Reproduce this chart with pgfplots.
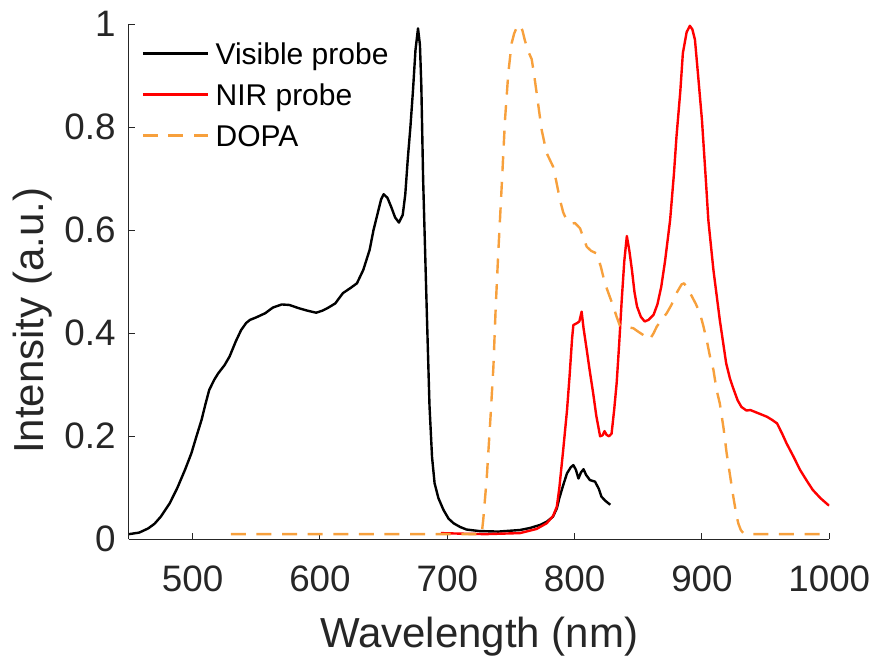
\documentclass[border=0pt]{standalone}
\usepackage{fontspec}
\setmainfont{Liberation Sans}
\usepackage{pgfplots}
\pgfplotsset{compat=1.18}
\definecolor{axgray}{RGB}{38,38,38}
\definecolor{dopa}{RGB}{247,160,60}
\begin{document}
\begin{tikzpicture}
\path[use as bounding box] (-64.5pt,-59.35pt) rectangle (373pt,269.65pt);
\begin{axis}[
  at={(0,0)}, anchor=south west,
  scale only axis, width=350.15pt, height=257.5pt,
  xmin=450, xmax=1000, ymin=0, ymax=1,
  axis x line*=bottom, axis y line*=left,
  axis line style={draw=axgray, line width=0.5pt, -},
  xtick={500,600,700,800,900,1000},
  ytick={0,0.2,0.4,0.6,0.8,1},
  tick align=inside, major tick length=3pt,
  tick style={draw=axgray, line width=0.5pt},
  /pgf/number format/assume math mode=true,
  /pgf/number format/1000 sep={},
  ticklabel style={font=\fontsize{18.4}{22}\selectfont, text=axgray},
  xticklabel style={inner sep=0pt, anchor=north, yshift=-13pt},
  yticklabel style={inner sep=0pt, anchor=east, xshift=-6.5pt},
  xlabel={Wavelength (nm)}, ylabel={Intensity (a.u.)},
  label style={font=\fontsize{21}{25}\selectfont, text=axgray},
  xlabel style={at={(axis description cs:0.5,-0.2097)}, anchor=base, inner sep=0pt},
  ylabel style={at={(axis description cs:-0.1214,0.424)}, anchor=base, inner sep=0pt},
  legend style={draw=none, fill=none, inner sep=0pt, outer sep=0pt,
    at={(axis description cs:0.018,0.965)}, anchor=north west,
    font=\fontsize{15}{18}\selectfont, row sep=9.5pt, column sep=3pt,
    nodes={inner sep=0pt, text height=11pt, text depth=0pt}},
  legend cell align=left,
  legend image code/.code={\draw[#1] (0pt,0pt) -- (32.8pt,0pt);},
]
\addplot[black, line width=1.2pt, line join=round] coordinates {
(450,0.010) (458,0.013) (465,0.021) (470,0.030) (475,0.044) (482,0.070) (488,0.100)
(494,0.135) (499,0.167) (503,0.200) (507,0.232) (510,0.262) (513,0.290) (517,0.310)
(520,0.322) (525,0.338) (529,0.355) (534,0.385) (538,0.406) (542,0.420) (545,0.426)
(550,0.431) (557,0.439) (563,0.450) (570,0.456) (576,0.455) (583,0.449) (590,0.444)
(597,0.440) (602,0.444) (606,0.449) (612,0.458) (618,0.478) (624,0.488) (629,0.497)
(634,0.523) (639,0.562) (642,0.600) (645,0.630) (648,0.660) (650,0.670) (653,0.663)
(656,0.645) (659,0.625) (662,0.615) (665,0.630) (667,0.670) (669,0.740) (671,0.800)
(673,0.870) (675,0.950) (677,0.992) (678.5,0.960) (679.6,0.880) (681,0.700) (682,0.610)
(684,0.432) (686,0.260) (688,0.160) (690,0.109) (693,0.080) (697,0.057) (701,0.040)
(705,0.031) (710,0.024) (715,0.019) (725,0.016) (740,0.015) (757,0.018) (765,0.022)
(773,0.028) (778,0.034) (783,0.044) (786,0.060) (788,0.080) (791,0.105) (794,0.128)
(797,0.140) (799,0.144) (801,0.135) (803,0.118) (805,0.130) (807,0.136) (809,0.125)
(812,0.115) (816,0.112) (819,0.098) (821,0.083) (824,0.075) (828,0.067)
};
\addlegendentry{Visible probe}
\addplot[red, line width=1.2pt, line join=round] coordinates {
(695,0.012) (710,0.011) (730,0.010) (757,0.012) (770,0.020) (778,0.031) (783,0.045)
(786,0.063) (788,0.100) (791,0.173) (794,0.250) (796,0.316) (798,0.390) (799,0.416)
(802,0.420) (803.7,0.423) (805.5,0.442) (807,0.410) (809.5,0.368) (812,0.325)
(814.6,0.283) (817,0.240) (820,0.200) (822,0.202) (823.5,0.210) (825,0.203) (827,0.200)
(829,0.205) (831,0.250) (833,0.303) (835,0.380) (837,0.465) (839,0.540) (841,0.589)
(843,0.560) (845,0.523) (847,0.480) (849,0.452) (852,0.432) (855,0.423) (858,0.426)
(862,0.436) (865,0.456) (868,0.490) (871,0.540) (875,0.620) (878,0.710) (880,0.782)
(883,0.870) (885,0.944) (888,0.985) (890.5,0.997) (892.5,0.990) (894.5,0.970)
(897,0.900) (900,0.814) (903,0.700) (905,0.620) (909,0.523) (914,0.426) (919,0.342)
(922,0.312) (924.6,0.293) (928,0.270) (931,0.257) (935,0.250) (938,0.251) (944,0.245) (951,0.238)
(955,0.232) (959,0.225) (963,0.205) (966.5,0.186) (972,0.160) (977,0.135) (982,0.115)
(987,0.096) (993,0.080) (999,0.067) (1000,0.066)
};
\addlegendentry{NIR probe}
\addplot[dopa, line width=1.2pt, line join=round, dash pattern=on 7.5pt off 5.3pt] coordinates {
(530,0.010) (727,0.010) (728.3,0.040) (731,0.120) (734,0.240) (736.2,0.335) (738,0.450)
(740,0.555) (742.7,0.685) (745.3,0.814) (747.9,0.905) (750.5,0.963) (752.5,0.982) (754.5,0.994)
(757,0.999) (759,0.988) (761,0.968) (763.5,0.948) (766.3,0.932) (768,0.905) (770.2,0.866)
(774.1,0.795) (778,0.750) (783.2,0.723) (786,0.690) (788.5,0.659) (791,0.635)
(793.7,0.620) (797,0.613) (800.3,0.614) (804.2,0.604) (807,0.585) (809.5,0.568)
(813,0.560) (817.3,0.555) (820.5,0.530) (823.8,0.497) (827,0.475) (830.4,0.452)
(833,0.432) (835.5,0.415) (840,0.412) (846,0.410) (850,0.403) (855,0.395) (859,0.388)
(862,0.400) (864.5,0.413) (868,0.425) (872.3,0.439) (876,0.455) (880,0.478) (884,0.495)
(886,0.497) (889,0.485) (892,0.472) (895,0.458) (898.4,0.439) (901,0.415) (903.7,0.387)
(906.3,0.355) (909,0.329) (911.5,0.290) (914,0.264) (917,0.215) (919.4,0.167)
(922,0.125) (924.6,0.083) (926.5,0.055) (928.5,0.031) (930.5,0.018) (932.5,0.012)
(935,0.010) (1000,0.010)
};
\addlegendentry{DOPA}
\end{axis}
\end{tikzpicture}
\end{document}
